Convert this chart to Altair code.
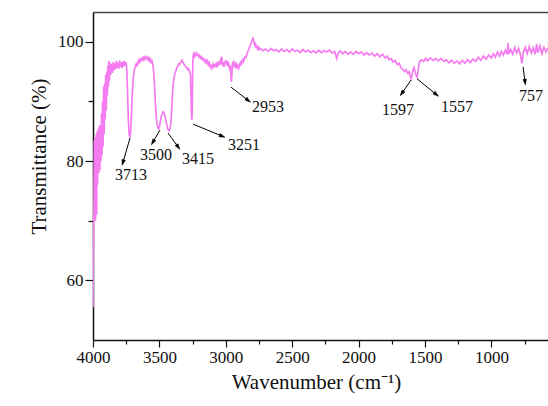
import math
import altair as alt
import pandas as pd

# ---------------- data ----------------
# (wavenumber cm-1, transmittance %) pairs, split by spectral region
SEG_EDGE = [
    (4000, 55.5), (3998, 64.0), (3996, 69.0), (3993, 72.0), (3990, 83.5), (3987, 70.5),
    (3984, 84.0), (3981, 70.0), (3978, 80.0), (3975, 84.5), (3972, 71.0), (3969, 85.0),
    (3966, 76.0), (3962, 82.0), (3959, 85.5), (3956, 78.0), (3952, 86.0), (3948, 78.5),
    (3944, 86.0), (3940, 80.0), (3936, 88.0), (3932, 81.0), (3928, 90.0), (3924, 82.5),
    (3920, 92.5), (3916, 84.5), (3912, 93.0), (3908, 87.0), (3904, 94.5), (3900, 88.5),
    (3896, 95.0), (3892, 91.0), (3888, 96.0), (3884, 92.5), (3880, 96.8), (3876, 93.5),
    (3872, 96.5), (3866, 94.5), (3860, 96.3), (3854, 94.8), (3848, 96.6), (3842, 95.2),
    (3836, 96.4), (3830, 95.4), (3824, 96.8), (3818, 95.6), (3812, 96.5), (3806, 95.5),
    (3800, 96.9), (3794, 95.8), (3788, 96.6), (3782, 95.6), (3776, 96.7), (3770, 95.9),
    (3764, 96.8), (3758, 96.0), (3752, 96.6),
]
SEG_OH = [
    (3746, 95.5), (3742, 93.0), (3738, 90.0), (3734, 87.0), (3728, 84.5), (3721, 84.0),
    (3716, 85.0), (3712, 87.0), (3706, 90.5), (3700, 93.0), (3694, 94.5), (3688, 95.3),
    (3682, 95.8), (3676, 96.2), (3670, 96.0), (3664, 96.6), (3658, 96.4), (3652, 97.0),
    (3646, 96.7), (3640, 97.1), (3634, 96.9), (3628, 97.3), (3622, 97.0), (3616, 97.4),
    (3610, 97.1), (3604, 97.5), (3598, 97.2), (3592, 97.4), (3586, 97.0), (3580, 97.3),
    (3574, 96.8), (3568, 97.1), (3562, 96.6), (3556, 96.8), (3550, 96.2), (3545, 95.5),
    (3540, 94.0), (3535, 92.0), (3530, 89.5), (3524, 87.5), (3518, 86.2), (3511, 85.6),
    (3505, 85.4), (3499, 85.8), (3493, 86.6), (3487, 87.4), (3480, 87.9), (3473, 88.3),
    (3466, 88.1), (3459, 87.6), (3452, 87.0), (3445, 86.2), (3438, 85.5), (3431, 85.2),
    (3425, 85.1), (3419, 85.5), (3414, 86.3), (3408, 88.5), (3402, 91.0), (3396, 93.0),
    (3390, 94.0), (3384, 94.6), (3378, 95.0), (3372, 95.4), (3366, 95.8), (3360, 96.0),
    (3354, 96.3), (3348, 96.2), (3342, 96.5), (3336, 96.6), (3330, 96.9), (3325, 96.6),
    (3320, 96.5), (3314, 96.2), (3308, 96.0), (3302, 95.9), (3296, 95.6), (3290, 95.6),
    (3284, 95.3), (3278, 95.4), (3272, 95.0), (3266, 94.5), (3262, 91.0), (3259, 88.0),
    (3256, 86.9), (3253, 88.5), (3250, 94.0),
]
SEG_CH = [
    (3247, 97.5), (3243, 97.9), (3238, 97.6), (3233, 98.0), (3228, 97.7), (3222, 98.1),
    (3216, 97.8), (3210, 97.9), (3204, 97.5), (3198, 97.7), (3192, 97.3), (3186, 97.5),
    (3180, 97.1), (3174, 97.3), (3168, 96.9), (3162, 97.0), (3156, 96.6), (3150, 96.9),
    (3144, 96.5), (3138, 96.8), (3132, 96.2), (3126, 96.5), (3120, 95.9), (3114, 96.1),
    (3108, 95.5), (3102, 95.8), (3096, 96.2), (3090, 95.6), (3084, 96.3), (3078, 95.8),
    (3072, 96.5), (3066, 95.7), (3060, 96.4), (3054, 96.0), (3048, 96.8), (3042, 96.2),
    (3036, 97.2), (3030, 97.5), (3026, 96.0), (3020, 96.6), (3014, 95.8), (3008, 96.3),
    (3002, 96.9), (2996, 96.4), (2990, 96.8), (2984, 95.9), (2978, 96.3), (2972, 95.6),
    (2966, 96.0), (2962, 94.5), (2958, 93.3), (2954, 94.8), (2950, 96.4), (2944, 96.6),
    (2938, 96.0), (2932, 96.4), (2926, 95.8), (2920, 96.2), (2914, 95.7), (2908, 96.0),
    (2902, 95.6), (2896, 96.1), (2890, 96.5), (2884, 96.2), (2878, 96.8), (2872, 97.0),
    (2866, 96.7), (2860, 97.3), (2854, 97.5), (2848, 97.4), (2842, 97.9), (2836, 98.2),
    (2830, 98.6), (2824, 99.0), (2818, 99.3), (2812, 99.6), (2806, 100.0), (2800, 100.4),
    (2795, 100.6), (2790, 100.2), (2785, 99.7), (2780, 99.3), (2775, 99.6), (2770, 99.1),
    (2765, 99.2), (2760, 98.8), (2754, 99.1), (2748, 98.7),
]
SEG_FLAT = [
    (2740, 98.9), (2720, 98.5), (2700, 98.8), (2680, 98.4), (2660, 98.9), (2640, 98.5),
    (2620, 98.7), (2600, 98.3), (2580, 98.8), (2560, 98.4), (2540, 98.7), (2520, 98.3),
    (2500, 98.8), (2480, 98.4), (2460, 98.6), (2440, 98.2), (2420, 98.7), (2400, 98.3),
    (2380, 98.6), (2360, 98.2), (2340, 98.5), (2320, 98.1), (2300, 98.6), (2280, 98.2),
    (2260, 98.5), (2240, 98.3), (2220, 98.6), (2200, 98.1), (2180, 98.4), (2165, 97.2),
    (2155, 98.0), (2140, 98.5), (2120, 98.0), (2100, 98.4), (2080, 97.9), (2060, 98.3),
    (2040, 97.9), (2020, 98.4), (2000, 98.0), (1980, 98.3), (1960, 97.8), (1940, 98.2),
    (1920, 97.8), (1900, 98.1), (1880, 97.6), (1860, 98.0), (1840, 97.5), (1820, 97.9),
]
SEG_CC = [
    (1800, 97.3), (1785, 97.6), (1770, 97.0), (1755, 97.2), (1740, 96.6), (1725, 96.9),
    (1710, 96.2), (1695, 96.4), (1680, 95.6), (1668, 95.4), (1655, 95.0), (1643, 95.3),
    (1630, 94.7), (1620, 95.0), (1612, 94.2), (1605, 93.8), (1598, 94.4), (1590, 95.3),
    (1583, 95.7), (1575, 95.0), (1567, 94.4), (1560, 94.1), (1553, 95.0), (1546, 96.2),
    (1538, 96.8), (1525, 97.0), (1510, 96.7), (1495, 97.2), (1480, 96.8), (1460, 97.3),
    (1440, 96.9), (1420, 97.2), (1400, 96.8), (1380, 97.2), (1360, 96.7), (1340, 97.0),
    (1320, 96.5), (1300, 96.9), (1280, 96.4), (1260, 96.8), (1240, 96.3), (1220, 96.9),
    (1200, 96.4), (1180, 97.0), (1160, 96.5), (1140, 97.1), (1120, 96.7), (1100, 97.4),
    (1080, 96.9), (1060, 97.6), (1040, 97.1), (1020, 97.8), (1000, 97.3),
]
SEG_FINGER = [
    (985, 98.0), (970, 97.4), (955, 98.3), (940, 97.6), (925, 98.4), (910, 97.8),
    (895, 98.6), (880, 97.9), (875, 99.8), (868, 98.0), (855, 98.7), (840, 97.9),
    (825, 99.0), (810, 98.1), (795, 98.9), (782, 97.8), (770, 96.4), (760, 98.2),
    (745, 99.1), (730, 98.0), (715, 99.2), (700, 98.1), (685, 99.0), (670, 97.9),
    (660, 99.6), (650, 98.2), (635, 99.3), (620, 98.0), (605, 99.1), (590, 98.3),
    (574, 99.0),
]

# peak annotations: label, label position, arrow start (near band), arrow end
PEAK_LABELS = ["3713", "3500", "3415", "3251", "2953", "1597", "1557", "757"]
LABEL_WN = [3714, 3526, 3209, 2863, 2682, 1703, 1259, 702]
LABEL_T = [77.7, 81.0, 80.3, 82.7, 89.1, 88.6, 89.1, 90.9]
ARROW_WN0 = [3721, 3496, 3435, 3247, 2961, 1605, 1560, 762]
ARROW_T0 = [83.9, 85.2, 84.7, 86.2, 92.4, 93.6, 93.8, 95.8]
ARROW_WN1 = [3774, 3548, 3360, 3029, 2833, 1673, 1417, 747]
ARROW_T1 = [79.8, 83.2, 82.4, 84.2, 90.2, 91.4, 91.2, 93.3]

X_MAJOR = [4000, 3500, 3000, 2500, 2000, 1500, 1000]
X_MINOR = [3750, 3250, 2750, 2250, 1750, 1250, 750]
Y_MAJOR = [60, 80, 100]
Y_MINOR = [70, 90]
X_DOMAIN = [574, 4000]
Y_DOMAIN = [50, 105]

# ---------------- layout / style ----------------
W, H = 455, 328
PINK = "#f57cf0"
FONT = "Liberation Serif"
ARROW_PATH = "M0,-1L0.55,0.8L-0.55,0.8Z"   # arrowhead pointing up, rotated by angle

pts = SEG_EDGE + SEG_OH + SEG_CH + SEG_FLAT + SEG_CC + SEG_FINGER
spec = pd.DataFrame({"wn": [p[0] for p in pts], "t": [p[1] for p in pts]})

# arrowhead orientation from the pixel direction of each arrow
px_per_wn = W / (X_DOMAIN[1] - X_DOMAIN[0])
px_per_t = H / (Y_DOMAIN[1] - Y_DOMAIN[0])
angles = []
for a, b, c, d in zip(ARROW_WN0, ARROW_T0, ARROW_WN1, ARROW_T1):
    dx = -(c - a) * px_per_wn
    dy = -(d - b) * px_per_t
    angles.append(round(math.degrees(math.atan2(dx, -dy)) % 360, 2))

arrows = pd.DataFrame({
    "wn0": ARROW_WN0, "t0": ARROW_T0, "wn1": ARROW_WN1, "t1": ARROW_T1, "ang": angles,
})
labels = pd.DataFrame({"wn": LABEL_WN, "t": LABEL_T, "label": PEAK_LABELS})

xs = alt.Scale(domain=X_DOMAIN, reverse=True, nice=False, zero=False)
ys = alt.Scale(domain=Y_DOMAIN, nice=False, zero=False)

line = alt.Chart(spec).mark_line(color=PINK, strokeWidth=1.7, clip=True).encode(
    x=alt.X("wn:Q", scale=xs, axis=alt.Axis(
        orient="bottom", values=X_MAJOR, format="d", title="Wavenumber (cm⁻¹)",
        tickSize=7, labelPadding=2, labelFlush=False, titleX=223, titleY=31,
        titleBaseline="top", titleAnchor="middle", domainWidth=1.5, grid=False)),
    y=alt.Y("t:Q", scale=ys, axis=alt.Axis(
        orient="left", values=Y_MAJOR, format="d", title="Transmittance (%)",
        tickSize=8, labelPadding=2, labelFlush=False, titleY=144, titleX=-44,
        titleAngle=-90, titleBaseline="bottom", titleAnchor="middle",
        domainWidth=1.5, grid=False)),
)

minor = alt.Chart(spec).mark_line(opacity=0).encode(
    x=alt.X("wn:Q", scale=xs, axis=alt.Axis(
        orient="bottom", values=X_MINOR, labels=False, domain=False, tickSize=4,
        title=None, grid=False)),
    y=alt.Y("t:Q", scale=ys, axis=alt.Axis(
        orient="left", values=Y_MINOR, labels=False, domain=False, tickSize=5,
        title=None, grid=False)),
)

topframe = alt.Chart(spec).mark_line(opacity=0).encode(
    x=alt.X("wn:Q", scale=xs, axis=alt.Axis(
        orient="top", labels=False, ticks=False, domain=True, domainColor="#444444",
        domainWidth=1.5, title=None, grid=False)),
    y=alt.Y("t:Q", scale=ys, axis=None),
)

rules = alt.Chart(arrows).mark_rule(color="black", strokeWidth=1).encode(
    x=alt.X("wn0:Q", scale=xs, axis=None), y=alt.Y("t0:Q", scale=ys, axis=None),
    x2="wn1:Q", y2="t1:Q",
)
heads = alt.Chart(arrows).mark_point(
    shape=ARROW_PATH, filled=True, fill="black", stroke="black", strokeWidth=0.5,
    size=40, opacity=1,
).encode(
    x=alt.X("wn1:Q", scale=xs, axis=None), y=alt.Y("t1:Q", scale=ys, axis=None),
    angle=alt.Angle("ang:Q", scale=None),
)
texts = alt.Chart(labels).mark_text(font=FONT, fontSize=16, color="#111111").encode(
    x=alt.X("wn:Q", scale=xs, axis=None), y=alt.Y("t:Q", scale=ys, axis=None),
    text="label:N",
)

chart = alt.layer(line, minor, topframe, rules, heads, texts).resolve_axis(
    x="independent", y="independent"
).properties(
    width=W, height=H,
    autosize=alt.AutoSizeParams(type="none"),
    padding={"left": 93, "top": 12, "right": 0, "bottom": 66},
    background="white",
).configure_view(stroke=None).configure_axis(
    labelFont=FONT, titleFont=FONT, labelFontSize=17, titleFontSize=21,
    labelColor="#111111", titleColor="#111111", titleFontWeight="normal",
    domainColor="#111111", tickColor="#111111", tickWidth=1.2,
)

chart.save("out.html", embed_options={"renderer": "svg", "actions": False})
